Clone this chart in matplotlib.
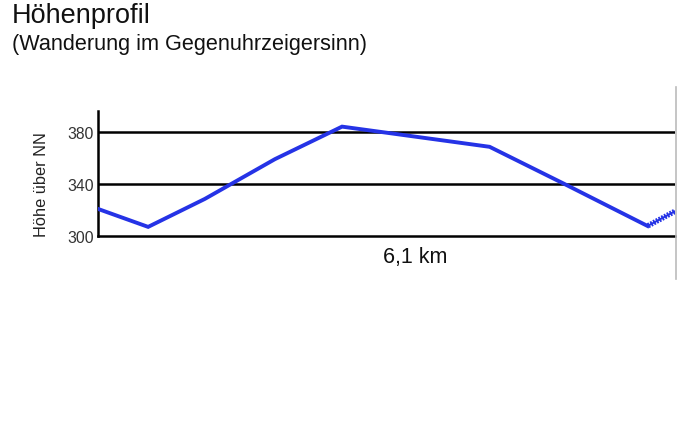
import matplotlib
matplotlib.use("Agg")
import matplotlib.pyplot as plt
from matplotlib.lines import Line2D
from matplotlib import patheffects

plt.rcParams['font.family'] = ['Liberation Sans', 'DejaVu Sans']

distance_km = [0.0, 0.53, 1.13, 1.87, 2.58, 4.14, 4.93, 5.81]
elevation_m = [320.8, 307.0, 328.5, 359.0, 384.0, 368.5, 340.0, 307.7]
end_distance = [5.81, 6.1]
end_elevation = [307.7, 319.0]
ytick_values = [300, 340, 380]
title = "Höhenprofil"
subtitle = "(Wanderung im Gegenuhrzeigersinn)"
xlabel = "6,1 km"
ylabel = "Höhe über NN"

fig = plt.figure(figsize=(6.8, 4.39), dpi=100)
ax = fig.add_axes([98/680, 1-237/439, 577/680, 125/439])
ax.set_xlim(0, 6.1)
ax.set_ylim(300, 396)

for y in ytick_values[1:]:
    ax.axhline(y, color='black', lw=1.8, zorder=1)

ax.plot(distance_km, elevation_m, color='#2533e6', lw=2.8, zorder=3, solid_joinstyle='miter')
ax.plot(end_distance, end_elevation, color='#2533e6', lw=1.4, zorder=3,
        path_effects=[patheffects.Stroke(linewidth=1.4, foreground='#2533e6'),
                      patheffects.TickedStroke(spacing=2.2, angle=90, length=0.6,
                                               linewidth=1.3, foreground='#2533e6'),
                      patheffects.TickedStroke(spacing=2.2, angle=-90, length=0.6,
                                               linewidth=1.3, foreground='#2533e6')])

for s in ['top', 'right']:
    ax.spines[s].set_visible(False)
ax.spines['left'].set_linewidth(1.8)
ax.spines['bottom'].set_linewidth(1.8)
ax.set_xticks([])
ax.set_yticks(ytick_values)
ax.tick_params(axis='y', length=0, pad=3, labelsize=11.3, labelcolor='#333333')
ax.set_ylabel(ylabel, fontsize=11.8, color='#222222')
ax.yaxis.set_label_coords(-(98-42)/577, (237-185)/125, transform=ax.transAxes)
ax.yaxis.label.set_va('center')

fig.text(415/680, 1-263/439, xlabel, fontsize=15.5, color='#111111', ha='center', va='baseline')

fig.add_artist(Line2D([676/680, 676/680], [1-88/439, 1-280/439], color='#bbbbbb', lw=1.2))

fig.text(12/680, 1-23/439, title, fontsize=19.5, va='baseline', ha='left', color='#111111')
fig.text(12/680, 1-50/439, subtitle, fontsize=15.6, va='baseline', ha='left', color='#111111')

fig.savefig('out.png', dpi=100)
